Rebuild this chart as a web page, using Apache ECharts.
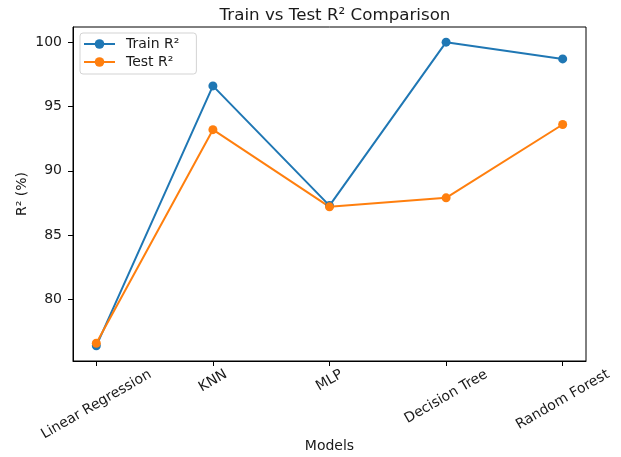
<!DOCTYPE html>
<html>
<head>
<meta charset="utf-8">
<script src="https://cdn.jsdelivr.net/npm/echarts@6/dist/echarts.min.js"></script>
<style>
  html, body { margin: 0; padding: 0; background: #fff; }
  #chart { width: 621px; height: 457px; }
</style>
</head>
<body>
<div id="chart"></div>
<script>
// data
const models = ["Linear Regression", "KNN", "MLP", "Decision Tree", "Random Forest"];
const trainR2 = [76.4, 96.6, 87.3, 100.0, 98.7];
const testR2 = [76.6, 93.2, 87.2, 87.9, 93.6];
const yTicks = [80, 85, 90, 95, 100];

const FONT = "DejaVu Sans";
const TICK_SIZE = 14;
const LINE_H = 16;

// matplotlib style 5% padding around the data
let all = trainR2.concat(testR2);
let lo = Math.min(...all), hi = Math.max(...all);
let pad = (hi - lo) * 0.05;
let xMin = -(models.length - 1) * 0.05;
let xMax = models.length - 1 - xMin;

// empty labels at both ends so echarts' min/max label check drops those, not real ones
let xVals = [xMin].concat(models.map((m, i) => i), [xMax]);

// centre the rotated labels under their ticks, like ha="center"
let ctx = document.createElement("canvas").getContext("2d");
ctx.font = TICK_SIZE + "px " + FONT;
let rich = {};
models.forEach((m, i) => {
  let w = ctx.measureText(m).width;
  let r = w * 0.5 + LINE_H * 0.866;
  let t = (r / 2 + 5.5) / 0.577;
  rich["l" + i] = {
    fontFamily: FONT,
    fontSize: TICK_SIZE,
    lineHeight: LINE_H,
    color: "#1a1a1a",
    padding: [t, t * 0.577, 0, 0]
  };
});

let myChart = echarts.init(document.getElementById("chart"), null, { renderer: "canvas" });

let option = {
  animation: false,
  backgroundColor: "#fff",
  title: {
    text: "Train vs Test R² Comparison",
    left: 330,
    textAlign: "center",
    top: 2,
    textStyle: { fontFamily: FONT, fontSize: 16.7, fontWeight: "normal", color: "#1a1a1a" }
  },
  legend: {
    orient: "vertical",
    left: 80,
    top: 33,
    padding: [4, 17, 5, 3],
    itemWidth: 31,
    itemHeight: 12,
    itemGap: 4,
    borderColor: "#d3d3d3",
    borderWidth: 1,
    borderRadius: 3,
    backgroundColor: "rgba(255,255,255,0.8)",
    textStyle: { fontFamily: FONT, fontSize: TICK_SIZE, color: "#1a1a1a", padding: [0, 0, 0, 6] },
    data: ["Train R²", "Test R²"]
  },
  grid: {
    left: 73, right: 35, top: 27, bottom: 96,
    outerBoundsMode: "none",
    containLabel: false,
    show: true, borderColor: "#000", borderWidth: 1
  },
  xAxis: {
    type: "value",
    min: xMin,
    max: xMax,
    name: "Models",
    nameLocation: "middle",
    nameGap: 78,
    nameMoveOverlap: false,
    nameTextStyle: { fontFamily: FONT, fontSize: TICK_SIZE, color: "#1a1a1a" },
    splitLine: { show: false },
    axisLine: { show: true, onZero: false, lineStyle: { color: "#000", width: 1 } },
    axisTick: { show: true, length: 5, lineStyle: { color: "#000" }, customValues: xVals },
    axisLabel: {
      customValues: xVals,
      showMinLabel: false,
      showMaxLabel: false,
      rotate: 30,
      align: "center",
      verticalAlign: "middle",
      margin: 0,
      formatter: v => Number.isInteger(v) ? "{l" + v + "|" + models[v] + "}" : "",
      rich: rich
    }
  },
  yAxis: {
    type: "value",
    min: lo - pad,
    max: hi + pad,
    name: "R² (%)",
    nameLocation: "middle",
    nameGap: 44,
    nameMoveOverlap: false,
    nameTextStyle: { fontFamily: FONT, fontSize: TICK_SIZE, color: "#1a1a1a" },
    splitLine: { show: false },
    axisLine: { show: true, onZero: false, lineStyle: { color: "#000", width: 1 } },
    axisTick: { show: true, length: 5, lineStyle: { color: "#000" }, customValues: yTicks },
    axisLabel: {
      customValues: yTicks,
      margin: 11,
      fontFamily: FONT,
      fontSize: TICK_SIZE,
      color: "#1a1a1a"
    }
  },
  series: [
    {
      name: "Train R²",
      type: "line",
      data: trainR2.map((v, i) => [i, v]),
      symbol: "circle",
      symbolSize: 9,
      color: "#1f77b4",
      lineStyle: { width: 2 }
    },
    {
      name: "Test R²",
      type: "line",
      data: testR2.map((v, i) => [i, v]),
      symbol: "circle",
      symbolSize: 9,
      color: "#ff7f0e",
      lineStyle: { width: 2 }
    }
  ]
};

myChart.setOption(option);
</script>
</body>
</html>
